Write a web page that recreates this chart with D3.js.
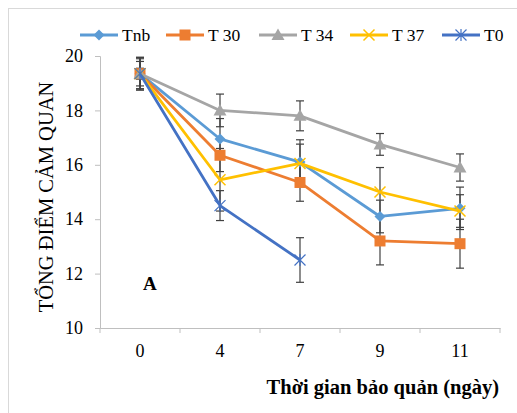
<!DOCTYPE html>
<html>
<head>
<meta charset="utf-8">
<script src="https://cdn.jsdelivr.net/npm/d3@7"></script>
<style>
  body { margin: 0; background: #fff; }
  svg text { font-family: "Liberation Serif", "DejaVu Serif", serif !important; }
</style>
</head>
<body>
<script>
// Storage days (categories)
const days = ["0", "4", "7", "9", "11"];

// Mean sensory scores per series
const tnb = [19.35, 16.95, 16.1, 14.1, 14.4];
const t30 = [19.35, 16.35, 15.35, 13.2, 13.1];
const t34 = [19.35, 18.0, 17.8, 16.75, 15.9];
const t37 = [19.35, 15.45, 16.05, 15.0, 14.3];
const t0 = [19.35, 14.5, 12.5];

// Error bar half widths
const tnbErr = [0.45, 0.75, 0.82, 0.6, 0.78];
const t30Err = [0.6, 0.6, 0.69, 0.88, 0.9];
const t34Err = [0.55, 0.6, 0.55, 0.4, 0.5];
const t37Err = [0.2, 1.15, 0.71, 0.9, 0.6];
const t0Err = [0.6, 0.55, 0.82];

const yTicks = [10, 12, 14, 16, 18, 20];

const series = [
  { name: "Tnb", values: tnb, err: tnbErr, color: "#5b9bd5", marker: "diamond" },
  { name: "T 30", values: t30, err: t30Err, color: "#ed7d31", marker: "square" },
  { name: "T 34", values: t34, err: t34Err, color: "#a5a5a5", marker: "triangle" },
  { name: "T 37", values: t37, err: t37Err, color: "#ffc000", marker: "x" },
  { name: "T0", values: t0, err: t0Err, color: "#4472c4", marker: "star" },
];

const width = 517, height = 413;
const margin = { top: 56, right: 17, bottom: 85, left: 100 };

const svg = d3.select("body").append("svg")
  .attr("width", width)
  .attr("height", height);

// outer chart frame
svg.append("rect")
  .attr("x", 8.5).attr("y", 8.5)
  .attr("width", width + 10).attr("height", height + 10)
  .attr("fill", "none")
  .attr("stroke", "#d9d9d9");

const x = d3.scaleBand().domain(days).range([margin.left, width - margin.right]);
const y = d3.scaleLinear().domain([10, 20]).range([height - margin.bottom, margin.top]);
const cx = (i) => x(days[i]) + x.bandwidth() / 2;

// y axis
const yAxis = svg.append("g")
  .attr("transform", `translate(${margin.left},0)`)
  .call(d3.axisLeft(y).tickValues(yTicks).tickSize(5).tickPadding(12));
yAxis.select(".domain").attr("stroke", "#bfbfbf");
yAxis.selectAll(".tick line").attr("stroke", "#bfbfbf");
yAxis.selectAll("text").attr("font-size", 18).attr("fill", "#000");

// x axis with ticks on the band boundaries
const xAxis = svg.append("g")
  .attr("transform", `translate(0,${y(10)})`)
  .call(d3.axisBottom(x).tickSize(0).tickPadding(16));
xAxis.select(".domain").attr("stroke", "#bfbfbf");
xAxis.selectAll("text").attr("font-size", 18).attr("fill", "#000");
xAxis.selectAll(".bound")
  .data(d3.range(days.length + 1))
  .join("line")
  .attr("class", "bound")
  .attr("x1", (i) => margin.left + i * x.step())
  .attr("x2", (i) => margin.left + i * x.step())
  .attr("y1", 0).attr("y2", 5)
  .attr("stroke", "#bfbfbf");

// error bars
const errG = svg.append("g").attr("stroke", "#404040").attr("stroke-width", 1.2);
series.forEach((s) => {
  s.values.forEach((v, i) => {
    const e = s.err[i];
    const px = cx(i);
    errG.append("line").attr("x1", px).attr("x2", px).attr("y1", y(v - e)).attr("y2", y(v + e));
    errG.append("line").attr("x1", px - 4).attr("x2", px + 4).attr("y1", y(v - e)).attr("y2", y(v - e));
    errG.append("line").attr("x1", px - 4).attr("x2", px + 4).attr("y1", y(v + e)).attr("y2", y(v + e));
  });
});

// marker drawing helper
function drawMarker(g, type, color, px, py) {
  if (type === "diamond") {
    g.append("path").attr("d", `M${px},${py - 5.5}L${px + 5.5},${py}L${px},${py + 5.5}L${px - 5.5},${py}Z`).attr("fill", color);
  } else if (type === "square") {
    g.append("rect").attr("x", px - 5.5).attr("y", py - 5.5).attr("width", 11).attr("height", 11).attr("fill", color);
  } else if (type === "triangle") {
    g.append("path").attr("d", `M${px},${py - 6.5}L${px + 6.5},${py + 5}L${px - 6.5},${py + 5}Z`).attr("fill", color);
  } else if (type === "x") {
    g.append("path").attr("d", `M${px - 5.5},${py - 5.5}L${px + 5.5},${py + 5.5}M${px - 5.5},${py + 5.5}L${px + 5.5},${py - 5.5}`)
      .attr("stroke", color).attr("stroke-width", 1.5).attr("fill", "none");
  } else {
    g.append("path").attr("d", `M${px - 5.5},${py - 5.5}L${px + 5.5},${py + 5.5}M${px - 5.5},${py + 5.5}L${px + 5.5},${py - 5.5}M${px},${py - 6}L${px},${py + 6}`)
      .attr("stroke", color).attr("stroke-width", 1.2).attr("fill", "none");
  }
}

// lines and markers
const line = d3.line().x((d, i) => cx(i)).y((d) => y(d));
series.forEach((s) => {
  svg.append("path")
    .datum(s.values)
    .attr("d", line)
    .attr("fill", "none")
    .attr("stroke", s.color)
    .attr("stroke-width", 2.8)
    .attr("stroke-linejoin", "round");
  const g = svg.append("g");
  s.values.forEach((v, i) => drawMarker(g, s.marker, s.color, cx(i), y(v)));
});

// legend
const legendX = [80, 166, 259, 350, 442];
const legend = svg.append("g");
series.forEach((s, i) => {
  const lx = legendX[i], ly = 35;
  legend.append("line").attr("x1", lx).attr("x2", lx + 38).attr("y1", ly).attr("y2", ly)
    .attr("stroke", s.color).attr("stroke-width", 2.8);
  drawMarker(legend, s.marker, s.color, lx + 19, ly);
  legend.append("text").attr("x", lx + 42).attr("y", ly + 6)
    .attr("font-size", 17.5).text(s.name);
});

// panel label
svg.append("text").attr("x", 143).attr("y", 290)
  .attr("font-size", 19).attr("font-weight", "bold").text("A");

// axis titles
svg.append("text")
  .attr("transform", `translate(53,197) rotate(-90)`)
  .attr("text-anchor", "middle")
  .attr("font-size", 20.5)
  .text("TỔNG ĐIỂM CẢM QUAN");

svg.append("text")
  .attr("x", 499).attr("y", 394)
  .attr("text-anchor", "end")
  .attr("font-size", 20.5).attr("font-weight", "bold")
  .text("Thời gian bảo quản (ngày)");
</script>
</body>
</html>
